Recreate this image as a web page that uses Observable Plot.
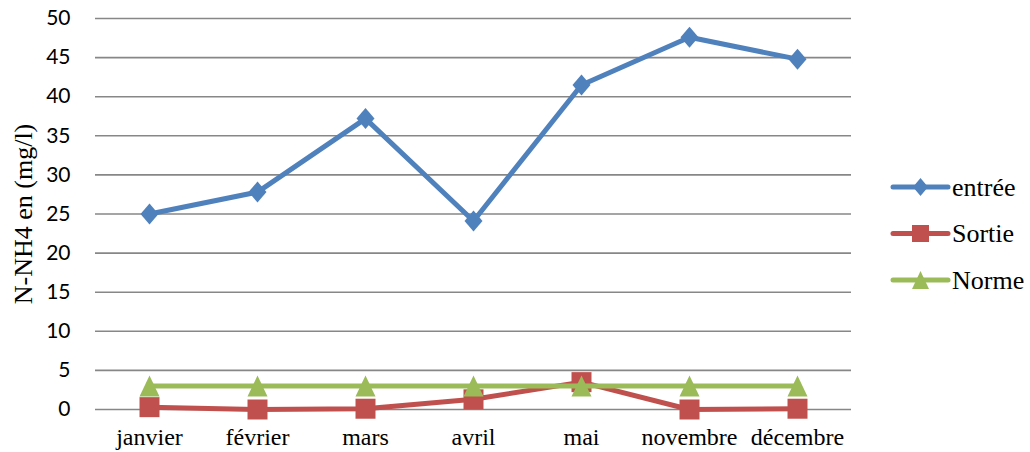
<!DOCTYPE html>
<html>
<head>
<meta charset="utf-8">
<script src="https://cdn.jsdelivr.net/npm/d3@7"></script>
<script src="https://cdn.jsdelivr.net/npm/@observablehq/plot@0.6"></script>
<style>
  html, body { margin: 0; padding: 0; background: #fff; }
  #wrap { position: relative; width: 1030px; height: 452px; overflow: hidden; }
  #legend { position: absolute; left: 880px; top: 160px; }
  .serif, .serif text { font-family: "Liberation Serif", "DejaVu Serif", serif !important; }
</style>
</head>
<body>
<div id="wrap"><div id="chart"></div><div id="legend"></div></div>
<script>
// ---- data ----
const months = ["janvier", "février", "mars", "avril", "mai", "novembre", "décembre"];
const entree = [25, 27.8, 37.2, 24.1, 41.5, 47.6, 44.8];
const sortie = [0.3, 0, 0.1, 1.3, 3.5, 0, 0.1];
const norme  = [3, 3, 3, 3, 3, 3, 3];
const seriesNames  = ["entrée", "Sortie", "Norme"];
const seriesColors = ["#4F81BD", "#C0504D", "#9BBB59"];
const yTicks = [0, 5, 10, 15, 20, 25, 30, 35, 40, 45, 50];
const yTitle = "N-NH4 en (mg/l)";

// ---- custom marker shapes ----
function diamondSym(w, h) {
  return { draw(ctx) { ctx.moveTo(0, -h/2); ctx.lineTo(w/2, 0); ctx.lineTo(0, h/2); ctx.lineTo(-w/2, 0); ctx.closePath(); } };
}
function squareSym(w, h) {
  return { draw(ctx) { ctx.moveTo(-w/2, -h/2); ctx.lineTo(w/2, -h/2); ctx.lineTo(w/2, h/2); ctx.lineTo(-w/2, h/2); ctx.closePath(); } };
}
function triangleSym(w, h) {
  return { draw(ctx) { ctx.moveTo(0, -h/2); ctx.lineTo(w/2, h/2); ctx.lineTo(-w/2, h/2); ctx.closePath(); } };
}
const plotSymbols = [diamondSym(18, 21), squareSym(20, 20), triangleSym(20, 21)];
const legendSymbols = [diamondSym(15, 18), squareSym(17, 17), triangleSym(17, 18)];

const values = [entree, sortie, norme];
const tables = values.map((vals, i) => months.map((m, j) => ({ month: m, value: vals[j], series: seriesNames[i] })));

const sans = "Lato, 'Open Sans', sans-serif";
const gridColor = "#878787";

const marks = [
  Plot.gridY(yTicks, { stroke: gridColor, strokeOpacity: 1, strokeWidth: 1.6 }),
  Plot.axisY(yTicks, { tickSize: 0, tickPadding: 25, fontSize: 21, fontFamily: sans, fill: "#000", label: null, line: true, stroke: gridColor, strokeWidth: 1.6 }),
  Plot.axisX({ tickSize: 0, tickPadding: 18, fontSize: 24, fill: "#000", label: null, className: "serif" }),
  Plot.text([yTitle], { frameAnchor: "left", dx: -72, rotate: -90, textAnchor: "middle", lineAnchor: "middle", fontSize: 26, fill: "#000", text: d => d, className: "serif" })
];
tables.forEach((t, i) => {
  marks.push(Plot.line(t, { x: "month", y: "value", stroke: seriesColors[i], strokeWidth: 5, strokeLinejoin: "round", strokeLinecap: "round" }));
  marks.push(Plot.dot(t, { x: "month", y: "value", symbol: plotSymbols[i], fill: seriesColors[i], stroke: "none", r: 10 }));
});

const chart = Plot.plot({
  width: 1030,
  height: 452,
  marginLeft: 95,
  marginRight: 179,
  marginTop: 18,
  marginBottom: 43,
  style: { background: "#fff", overflow: "visible" },
  x: { type: "point", domain: months, padding: 0.5, label: null, axis: null },
  y: { domain: [0, 50], label: null, axis: null },
  marks
});
document.getElementById("chart").appendChild(chart);

// ---- legend ----
const lg = d3.select("#legend").append("svg").attr("width", 150).attr("height", 150).style("overflow", "visible");
seriesNames.forEach((name, i) => {
  const cy = 27 + i * 46.5;
  const g = lg.append("g").attr("transform", `translate(0,${cy})`);
  g.append("line").attr("x1", 13).attr("x2", 68).attr("y1", 0).attr("y2", 0)
    .attr("stroke", seriesColors[i]).attr("stroke-width", 5).attr("stroke-linecap", "round");
  const p = d3.path(); legendSymbols[i].draw(p);
  g.append("path").attr("transform", "translate(40.5,0)").attr("d", p.toString()).attr("fill", seriesColors[i]);
  g.append("text").attr("class", "serif").attr("x", 72).attr("y", 0).attr("dy", "0.33em")
    .attr("font-size", 26).attr("fill", "#000").text(name);
});
</script>
</body>
</html>
